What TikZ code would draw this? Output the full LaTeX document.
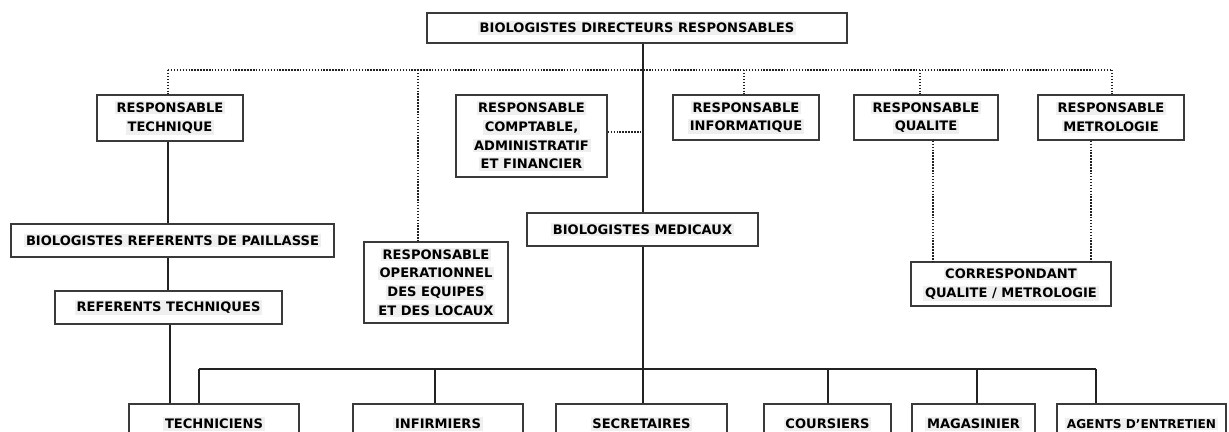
\documentclass[tikz,border=0pt]{standalone}
\usepackage{fontspec}
\setmainfont{DejaVu Sans}
\definecolor{hlgrey}{HTML}{EFEFEF}
\definecolor{ink}{HTML}{222222}
\definecolor{edge}{HTML}{3A3A3A}
% light grey band behind each line of a label
\newcommand{\hl}[1]{{\setlength{\fboxsep}{1.2pt}\colorbox{hlgrey}{#1}}}
\begin{document}
\begin{tikzpicture}[x=0.75pt,y=-0.75pt,
  bx/.style 2 args={draw=edge,line width=1.1pt,fill=white,rectangle,inner sep=0pt,
    minimum width=#1*0.75pt,minimum height=#2*0.75pt,align=center,
    font=\fontsize{9.8}{14}\selectfont\bfseries},
  solidline/.style={draw=ink,line width=1.5pt},
  dotline/.style={draw=ink,line width=1.4pt,dash pattern=on 1.1pt off 1.1pt}]
\useasboundingbox (0,0) rectangle (1229,432);

% connector anchor points
\coordinate (dl) at (168,70);
\coordinate (dr) at (1112,70);
\coordinate (dop) at (418,70);
\coordinate (dinfo) at (744,70);
\coordinate (dqual) at (920,70);
\coordinate (dtrunk) at (643,70);
\coordinate (bl) at (199,369);
\coordinate (br) at (1096,369);
\coordinate (btrunk) at (643,369);
\coordinate (binf) at (435,369);
\coordinate (bcour) at (828,369);
\coordinate (bmag) at (977,369);
\coordinate (qx) at (933,200);
\coordinate (mx) at (1091,200);
\coordinate (compy) at (600,132);

% dotted staff links
\draw[dotline] (dl) -- (dr);
\draw[dotline] (dop) -- (dop |- 0,242);
\draw[dotline] (dinfo) -- (dinfo |- 0,95);
\draw[dotline] (dqual) -- (dqual |- 0,95);
\draw[dotline] (dr) -- (dr |- 0,95);
\draw[dotline] (dl) -- (dl |- 0,95);

% boxes
\node[bx={420}{30}] (top) at (637,28) {\hl{BIOLOGISTES DIRECTEURS RESPONSABLES}};
\node[bx={146}{46}] (rt) at (170,118) {\hl{RESPONSABLE}\\\hl{TECHNIQUE}};
\node[bx={151}{82}] (comp) at (531.5,136) {\hl{RESPONSABLE}\\\hl{COMPTABLE,}\\\hl{ADMINISTRATIF}\\\hl{ET FINANCIER}};
\node[bx={146}{45}] (info) at (746,117.5) {\hl{RESPONSABLE}\\\hl{INFORMATIQUE}};
\node[bx={144}{45}] (qual) at (926,117.5) {\hl{RESPONSABLE}\\\hl{QUALITE}};
\node[bx={146}{45}] (metro) at (1111,117.5) {\hl{RESPONSABLE}\\\hl{METROLOGIE}};
\node[bx={200}{44}] (corr) at (1011,284) {\hl{CORRESPONDANT}\\\hl{QUALITE / METROLOGIE}};
\node[bx={323}{33}] (brp) at (172.5,240.5) {\hl{BIOLOGISTES REFERENTS DE PAILLASSE}};
\node[bx={227}{33}] (rtq) at (168.5,307.5) {\hl{REFERENTS TECHNIQUES}};
\node[bx={144}{81}] (op) at (436,282.5) {\hl{RESPONSABLE}\\\hl{OPERATIONNEL}\\\hl{DES EQUIPES}\\\hl{ET DES LOCAUX}};
\node[bx={231}{33}] (bm) at (642.5,229.5) {\hl{BIOLOGISTES MEDICAUX}};
\node[bx={170}{40}] (tech) at (214,424) {\hl{TECHNICIENS}};
\node[bx={170}{40}] (inf) at (438,424) {\hl{INFIRMIERS}};
\node[bx={171}{40}] (sec) at (641.5,424) {\hl{SECRETAIRES}};
\node[bx={127}{40}] (cour) at (827.5,424) {\hl{COURSIERS}};
\node[bx={123}{40}] (mag) at (973.5,424) {\hl{MAGASINIER}};
\node[bx={169}{40},font=\fontsize{9.1}{14}\selectfont\bfseries] (agents) at (1141.5,424) {\hl{AGENTS D'ENTRETIEN}};

% dotted links to the correspondent and accounting
\draw[dotline] (qual.south -| qx) -- (corr.north -| qx);
\draw[dotline] (metro.south -| mx) -- (corr.north -| mx);
\draw[dotline] (comp.east |- compy) -- (dtrunk |- compy);

% line-management trunk
\draw[solidline] (top.south -| dtrunk) -- (bm.north -| dtrunk);
\draw[solidline] (bm.south -| btrunk) -- (btrunk);
\draw[solidline] (bl) -- (br);
\draw[solidline] (bl) -- (bl |- tech.north);
\draw[solidline] (binf) -- (binf |- inf.north);
\draw[solidline] (btrunk) -- (btrunk |- sec.north);
\draw[solidline] (bcour) -- (bcour |- cour.north);
\draw[solidline] (bmag) -- (bmag |- mag.north);
\draw[solidline] (br) -- (br |- agents.north);

% technical chain
\draw[solidline] (rt.south -| dl) -- (brp.north -| dl);
\draw[solidline] (brp.south -| dl) -- (rtq.north -| dl);
\draw[solidline] (rtq.south -| 170,0) -- (tech.north -| 170,0);
\end{tikzpicture}
\end{document}
